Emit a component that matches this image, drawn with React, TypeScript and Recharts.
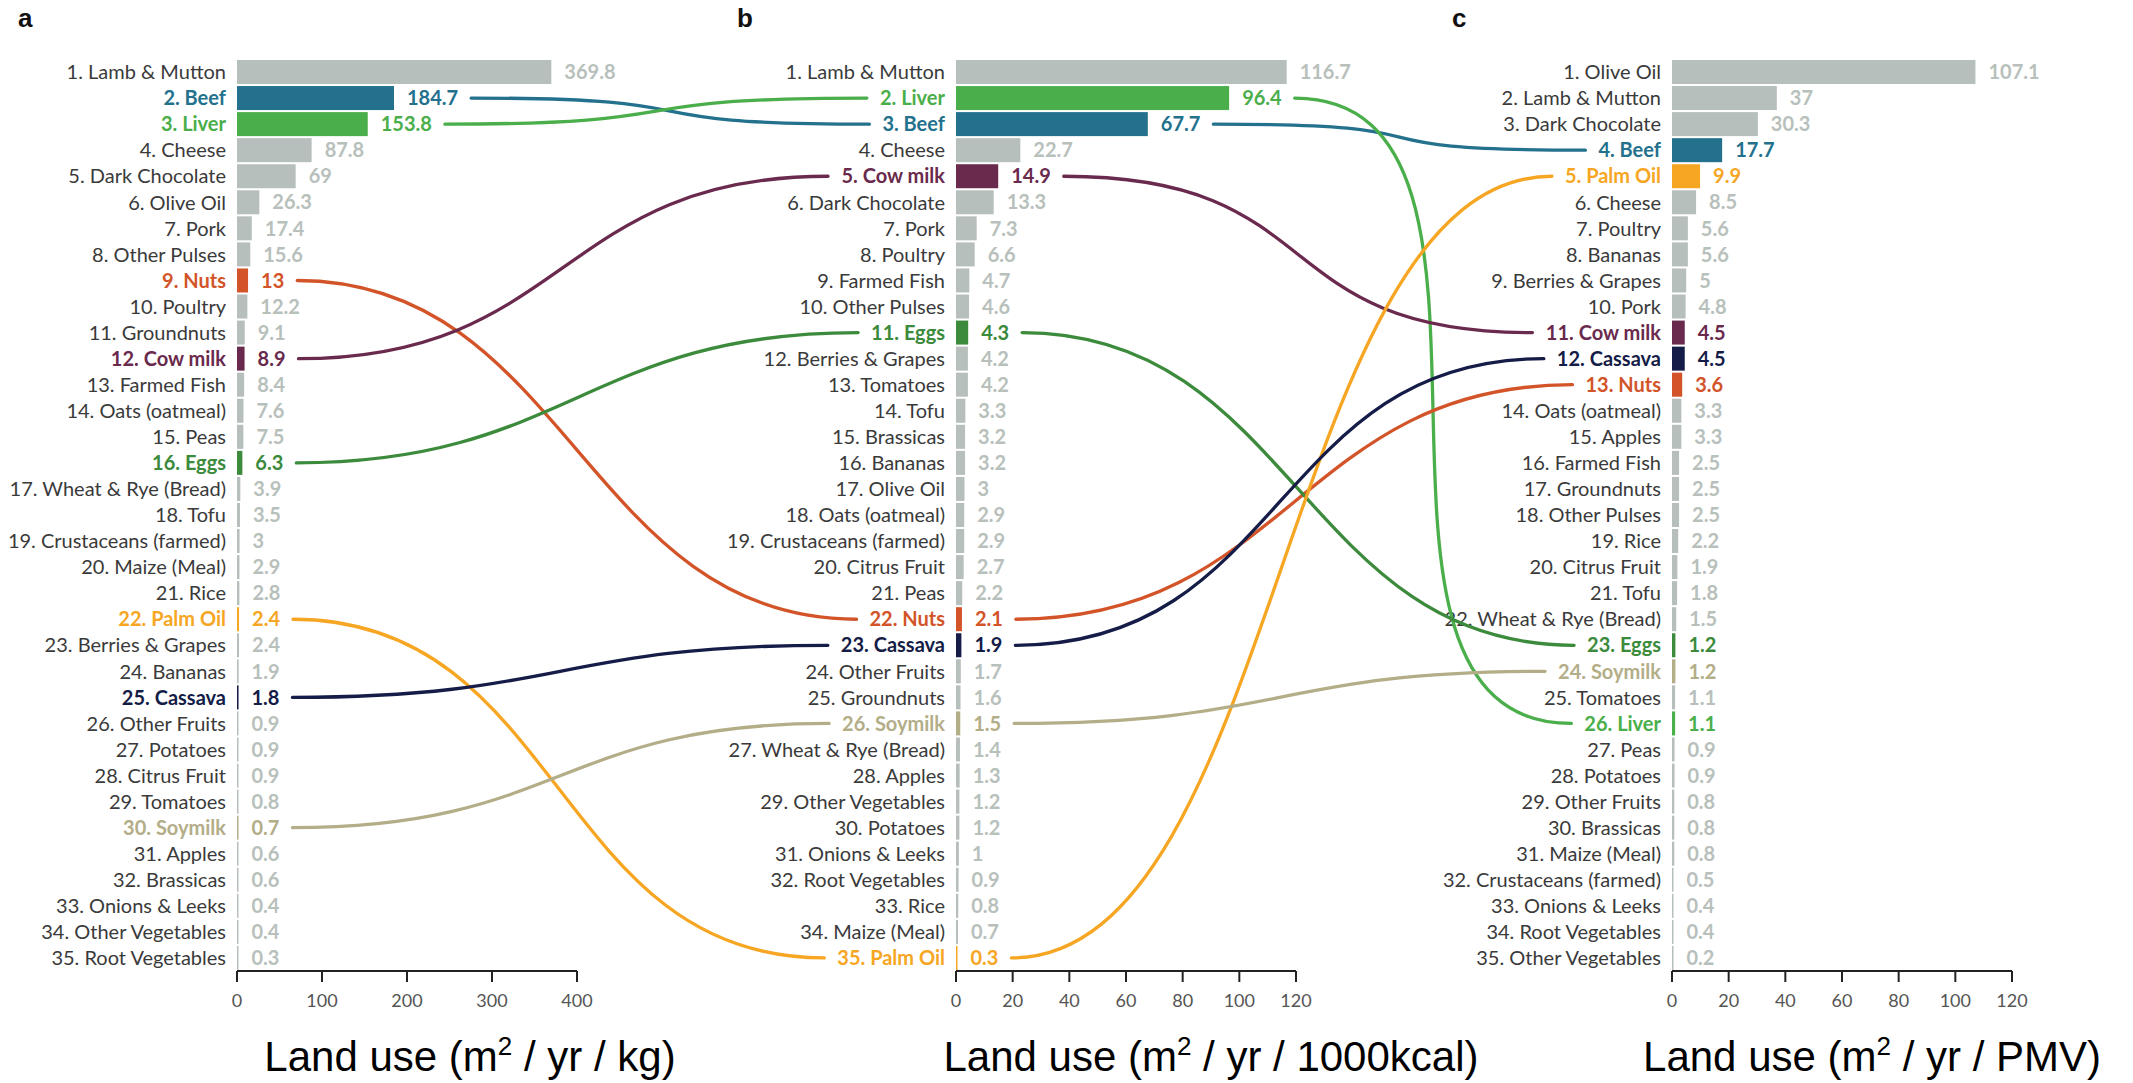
import React from 'react';
import { BarChart, Bar, XAxis, YAxis } from 'recharts';

// ---------- DATA ----------
const NAMES_A = ['Lamb & Mutton','Beef','Liver','Cheese','Dark Chocolate','Olive Oil','Pork','Other Pulses','Nuts','Poultry','Groundnuts','Cow milk','Farmed Fish','Oats (oatmeal)','Peas','Eggs','Wheat & Rye (Bread)','Tofu','Crustaceans (farmed)','Maize (Meal)','Rice','Palm Oil','Berries & Grapes','Bananas','Cassava','Other Fruits','Potatoes','Citrus Fruit','Tomatoes','Soymilk','Apples','Brassicas','Onions & Leeks','Other Vegetables','Root Vegetables'];
const VALUES_A = [369.8,184.7,153.8,87.8,69,26.3,17.4,15.6,13,12.2,9.1,8.9,8.4,7.6,7.5,6.3,3.9,3.5,3,2.9,2.8,2.4,2.4,1.9,1.8,0.9,0.9,0.9,0.8,0.7,0.6,0.6,0.4,0.4,0.3];
const TICKS_A = [0,100,200,300,400];

const NAMES_B = ['Lamb & Mutton','Liver','Beef','Cheese','Cow milk','Dark Chocolate','Pork','Poultry','Farmed Fish','Other Pulses','Eggs','Berries & Grapes','Tomatoes','Tofu','Brassicas','Bananas','Olive Oil','Oats (oatmeal)','Crustaceans (farmed)','Citrus Fruit','Peas','Nuts','Cassava','Other Fruits','Groundnuts','Soymilk','Wheat & Rye (Bread)','Apples','Other Vegetables','Potatoes','Onions & Leeks','Root Vegetables','Rice','Maize (Meal)','Palm Oil'];
const VALUES_B = [116.7,96.4,67.7,22.7,14.9,13.3,7.3,6.6,4.7,4.6,4.3,4.2,4.2,3.3,3.2,3.2,3,2.9,2.9,2.7,2.2,2.1,1.9,1.7,1.6,1.5,1.4,1.3,1.2,1.2,1,0.9,0.8,0.7,0.3];
const TICKS_B = [0,20,40,60,80,100,120];

const NAMES_C = ['Olive Oil','Lamb & Mutton','Dark Chocolate','Beef','Palm Oil','Cheese','Poultry','Bananas','Berries & Grapes','Pork','Cow milk','Cassava','Nuts','Oats (oatmeal)','Apples','Farmed Fish','Groundnuts','Other Pulses','Rice','Citrus Fruit','Tofu','Wheat & Rye (Bread)','Eggs','Soymilk','Tomatoes','Liver','Peas','Potatoes','Other Fruits','Brassicas','Maize (Meal)','Crustaceans (farmed)','Onions & Leeks','Root Vegetables','Other Vegetables'];
const VALUES_C = [107.1,37,30.3,17.7,9.9,8.5,5.6,5.6,5,4.8,4.5,4.5,3.6,3.3,3.3,2.5,2.5,2.5,2.2,1.9,1.8,1.5,1.2,1.2,1.1,1.1,0.9,0.9,0.8,0.8,0.8,0.5,0.4,0.4,0.2];
const TICKS_C = [0,20,40,60,80,100,120];

const HIGHLIGHTED = ['Beef','Liver','Nuts','Cow milk','Eggs','Palm Oil','Cassava','Soymilk'];
const HIGHLIGHT_COLORS = ['#23718d','#4aae4a','#d25428','#6a2a4d','#3c8a3b','#f6a623','#151c47','#b3ad88'];

const UNITS = ['kg','1000kcal','PMV'];
const LETTERS = ['a','b','c'];

// ---------- STYLE / LAYOUT ----------
const FONT = 'Lato, "Open Sans", sans-serif';
const GRAY_BAR = '#b6bfbb';
const GRAY_VALUE = '#b8c0bc';
const LABEL_COLOR = '#3a3a3a';
const MARGIN_TOP = 59;
const PLOT_H = 912;
const PLOT_W = 340;
const XAXIS_H = 60;
const CHART_H = MARGIN_TOP + PLOT_H + XAXIS_H;
const LABEL_GAP = 11;
const VALUE_OFFSET = 13;
const LINK_GAP = 13;
const LINK_HANDLE = 270;
const MIN_BAR = 1.5;
const TXT_SIZE = 20;

const colorOf = (name: string) => {
  const i = HIGHLIGHTED.indexOf(name);
  return i >= 0 ? HIGHLIGHT_COLORS[i] : null;
};

const buildRows = (names: string[], values: number[]) =>
  names.map((n, i) => {
    const c = colorOf(n);
    return {
      name: n,
      cat: `${i + 1}. ${n}`,
      value: values[i],
      color: c || GRAY_BAR,
      textColor: c || GRAY_VALUE,
      labelColor: c || LABEL_COLOR,
      hl: !!c,
    };
  });

const PANELS = [
  { rows: buildRows(NAMES_A, VALUES_A), ticks: TICKS_A, left: 0, yw: 237, rm: 90, titleX: 470, letterX: 18 },
  { rows: buildRows(NAMES_B, VALUES_B), ticks: TICKS_B, left: 700, yw: 256, rm: 90, titleX: 1211, letterX: 737 },
  { rows: buildRows(NAMES_C, VALUES_C), ticks: TICKS_C, left: 1420, yw: 252, rm: 100, titleX: 1872, letterX: 1452 },
];

let canvasCtx: any = null;
const measure = (text: string, weight: number) => {
  try {
    if (!canvasCtx) canvasCtx = document.createElement('canvas').getContext('2d');
    canvasCtx.font = `${weight} ${TXT_SIZE}px Lato`;
    return canvasCtx.measureText(text).width;
  } catch (e) {
    return text.length * TXT_SIZE * 0.55;
  }
};

const BarShape = (props: any) => {
  const { x, y, width, height, payload } = props;
  const w = Math.max(width, MIN_BAR);
  return (
    <g>
      <rect x={x} y={y} width={w} height={height} fill={payload.color} />
      <text
        x={x + w + VALUE_OFFSET}
        y={y + height / 2}
        dy="0.36em"
        fill={payload.textColor}
        fontFamily={FONT}
        fontWeight={700}
        fontSize={TXT_SIZE}
      >
        {String(payload.value)}
      </text>
    </g>
  );
};

const makeTick = (rows: any[]) => (props: any) => {
  const { x, y, payload } = props;
  const row = rows.find((r) => r.cat === payload.value);
  return (
    <text
      x={x}
      y={y}
      dy="0.36em"
      textAnchor="end"
      fill={row ? row.labelColor : LABEL_COLOR}
      fontFamily={FONT}
      fontWeight={row && row.hl ? 700 : 400}
      fontSize={TXT_SIZE}
    >
      {payload.value}
    </text>
  );
};

const Panel = ({ p }: { p: any }) => {
  const max = p.ticks[p.ticks.length - 1];
  const width = p.yw + PLOT_W + p.rm;
  return (
    <div style={{ position: 'absolute', left: p.left, top: 0 }}>
      <BarChart
        width={width}
        height={CHART_H}
        data={p.rows}
        layout="vertical"
        margin={{ top: MARGIN_TOP, right: p.rm, bottom: 0, left: 0 }}
        barCategoryGap={1}
      >
        <XAxis
          type="number"
          domain={[0, max]}
          ticks={p.ticks}
          height={XAXIS_H}
          axisLine={{ stroke: '#222', strokeWidth: 2 }}
          tickLine={{ stroke: '#222', strokeWidth: 2 }}
          tickSize={11}
          tickMargin={12}
          tick={{ fontSize: 18, fill: '#555', fontFamily: FONT }}
        />
        <YAxis
          type="category"
          dataKey="cat"
          width={p.yw}
          axisLine={false}
          tickLine={false}
          tickSize={0}
          tickMargin={LABEL_GAP}
          interval={0}
          tick={makeTick(p.rows)}
        />
        <Bar dataKey="value" barSize={24} isAnimationActive={false} shape={BarShape} />
      </BarChart>
    </div>
  );
};

const Connectors = () => {
  const band = PLOT_H / 35;
  const rowY = (i: number) => MARGIN_TOP + (i + 0.5) * band;
  const paths: any[] = [];
  for (let k = 0; k < PANELS.length - 1; k++) {
    const L = PANELS[k];
    const R = PANELS[k + 1];
    const lStart = L.left + L.yw;
    const lScale = PLOT_W / L.ticks[L.ticks.length - 1];
    const rStart = R.left + R.yw;
    HIGHLIGHTED.forEach((name, h) => {
      const i = L.rows.findIndex((r: any) => r.name === name);
      const j = R.rows.findIndex((r: any) => r.name === name);
      if (i < 0 || j < 0) return;
      const lr = L.rows[i];
      const rr = R.rows[j];
      const x1 = lStart + Math.max(lr.value * lScale, MIN_BAR) + VALUE_OFFSET + measure(String(lr.value), 700) + LINK_GAP;
      const x2 = rStart - LABEL_GAP - measure(rr.cat, 700) - LINK_GAP;
      const y1 = rowY(i);
      const y2 = rowY(j);
      const hnd = Math.min(LINK_HANDLE, (x2 - x1) * 0.95);
      paths.push(
        <path
          key={`${k}-${name}`}
          d={`M${x1},${y1} C${x1 + hnd},${y1} ${x2 - hnd},${y2} ${x2},${y2}`}
          fill="none"
          stroke={HIGHLIGHT_COLORS[h]}
          strokeWidth={3.3}
          strokeLinecap="round"
        />
      );
    });
  }
  return <g>{paths}</g>;
};

export default function App() {
  return (
    <div style={{ position: 'absolute', left: 0, top: 0, width: 2133, height: 1083, background: '#fff', overflow: 'hidden', fontFamily: FONT }}>
      {PANELS.map((p, i) => (
        <Panel key={i} p={p} />
      ))}
      <svg width={2133} height={1083} style={{ position: 'absolute', left: 0, top: 0, pointerEvents: 'none' }}>
        <Connectors />
        {PANELS.map((p, i) => (
          <text key={`l${i}`} x={p.letterX} y={27} fontFamily='"Liberation Sans", Arial, sans-serif' fontWeight={700} fontSize={26} fill="#111">
            {LETTERS[i]}
          </text>
        ))}
        {PANELS.map((p, i) => (
          <text key={`t${i}`} x={p.titleX} y={1071} textAnchor="middle" fontFamily='"Liberation Sans", Arial, sans-serif' fontSize={42} fill="#000">
            Land use (m<tspan fontSize={26} dy={-16}>2</tspan>
            <tspan dy={16}>{` / yr / ${UNITS[i]})`}</tspan>
          </text>
        ))}
      </svg>
    </div>
  );
}
